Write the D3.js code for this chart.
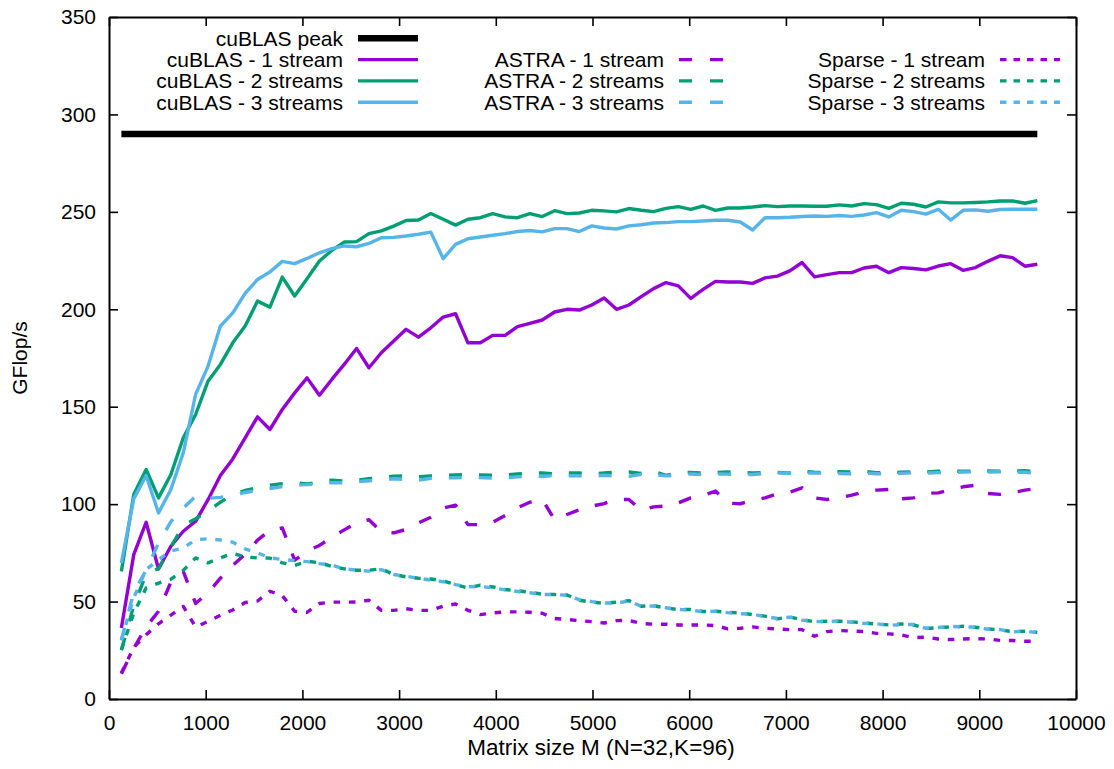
<!DOCTYPE html>
<html>
<head>
<meta charset="utf-8">
<script src="https://cdn.jsdelivr.net/npm/d3@7"></script>
<style>
  html, body { margin: 0; padding: 0; background: #fff; }
  svg { display: block; }
  text { font-family: "Liberation Sans", Arial, Helvetica, sans-serif; fill: #000; }
</style>
</head>
<body>
<svg id="chart" width="1114" height="769"></svg>
<script>
// ---------- data ----------
const matrixSizes = [128,256,384,512,640,768,896,1024,1152,1280,1408,1536,1664,1792,1920,2048,2176,2304,2432,2560,2688,2816,2944,3072,3200,3328,3456,3584,3712,3840,3968,4096,4224,4352,4480,4608,4736,4864,4992,5120,5248,5376,5504,5632,5760,5888,6016,6144,6272,6400,6528,6656,6784,6912,7040,7168,7296,7424,7552,7680,7808,7936,8064,8192,8320,8448,8576,8704,8832,8960,9088,9216,9344,9472,9600];

const cublasPeak = 290;

const cublas1 = [36.4, 74.1, 90.7, 66.7, 78.4, 86.1, 91.2, 102.3, 114.7, 123.2,
 134.0, 144.8, 138.3, 148.6, 157.1, 164.8, 155.9, 164.0, 171.7, 179.9,
 170.0, 177.7, 183.7, 189.7, 185.7, 190.5, 196.0, 197.7, 182.8, 182.8,
 186.6, 186.6, 191.1, 192.8, 194.5, 198.6, 200.0, 199.6, 202.2, 205.8,
 200.0, 202.2, 206.5, 210.6, 213.7, 212.0, 205.6, 210.2, 214.3, 214.0,
 214.0, 213.3, 216.1, 217.0, 219.7, 224.0, 216.6, 217.8, 218.8, 218.8,
 221.2, 222.1, 218.8, 221.4, 220.9, 220.2, 222.2, 223.4, 220.0, 221.4,
 224.6, 227.5, 226.5, 222.1, 223.1];

const cublas2 = [65.5, 104.9, 117.8, 103.2, 115.2, 134.0, 146.0, 163.1, 171.7, 182.8,
 191.4, 204.2, 201.1, 216.5, 206.8, 215.7, 224.8, 230.2, 234.5, 234.7,
 238.8, 240.2, 242.7, 245.6, 245.8, 249.2, 246.2, 243.2, 246.2, 247.0,
 249.1, 247.4, 247.0, 249.1, 247.6, 250.6, 249.1, 249.4, 250.8, 250.5,
 250.0, 251.7, 250.8, 250.1, 251.8, 252.7, 251.3, 253.0, 250.8, 252.0,
 252.0, 252.5, 253.2, 252.7, 253.0, 253.0, 252.9, 252.9, 253.6, 253.0,
 254.2, 253.7, 251.8, 254.4, 253.9, 252.5, 255.1, 254.6, 254.6, 254.8,
 255.1, 255.6, 255.6, 254.4, 255.8];

const cublas3 = [69.8, 102.7, 114.7, 95.5, 107.5, 126.3, 156.3, 170.8, 191.4, 198.2,
 208.2, 215.3, 219.1, 224.6, 223.4, 226.1, 229.0, 231.1, 232.5, 232.1,
 233.8, 236.7, 236.9, 237.6, 238.5, 239.6, 226.0, 233.3, 236.2, 237.1,
 238.0, 238.8, 239.9, 240.4, 239.7, 241.4, 241.4, 239.9, 242.8, 241.7,
 241.2, 242.8, 243.4, 244.3, 244.5, 245.0, 245.0, 245.3, 245.7, 245.7,
 244.8, 240.7, 247.0, 247.0, 247.2, 247.6, 247.9, 247.7, 248.1, 247.7,
 248.4, 249.6, 247.4, 250.8, 250.1, 248.8, 251.3, 245.8, 250.8, 251.0,
 250.3, 251.2, 251.3, 251.3, 251.3];

const astra1 = [13.0, 26.0, 37.0, 45.0, 60.0, 65.5, 49.0, 54.5, 62.0, 68.5,
 74.3, 81.5, 86.6, 87.8, 71.2, 76.0, 78.8, 83.0, 86.8, 90.4,
 92.0, 85.8, 85.3, 87.0, 90.4, 93.3, 98.0, 99.5, 89.5, 89.5,
 90.7, 94.2, 98.1, 101.0, 102.4, 92.1, 94.7, 97.1, 99.0, 100.3,
 102.4, 102.4, 96.9, 98.6, 99.0, 100.7, 103.2, 104.4, 106.7, 100.5,
 100.2, 102.0, 103.2, 105.3, 106.2, 108.4, 103.2, 102.4, 103.2, 104.6,
 106.3, 107.2, 107.5, 102.7, 103.2, 105.5, 105.8, 107.5, 108.9, 109.7,
 105.5, 105.0, 105.8, 107.2, 108.0];

const astra2 = [25.0, 48.0, 64.0, 67.0, 78.0, 89.0, 92.5, 96.5, 101.0, 105.0,
 107.0, 108.4, 109.7, 110.5, 110.9, 110.4, 111.3, 112.3, 111.8, 112.3,
 113.0, 113.5, 114.4, 114.5, 114.0, 114.5, 114.8, 115.0, 115.2, 115.0,
 114.8, 115.0, 115.5, 116.0, 116.0, 115.5, 116.0, 116.0, 115.5, 116.0,
 116.5, 116.5, 115.8, 116.8, 114.8, 116.0, 116.3, 116.0, 116.2, 116.5,
 116.2, 116.0, 116.2, 116.3, 116.0, 116.9, 116.4, 116.2, 116.6, 116.5,
 116.9, 116.2, 116.1, 116.4, 116.6, 116.5, 116.9, 116.8, 116.9, 116.9,
 117.0, 116.9, 116.9, 117.2, 116.6];

const astra3 = [30.0, 55.0, 66.0, 80.0, 91.0, 98.0, 104.0, 103.0, 103.5, 104.5,
 106.0, 107.0, 108.0, 109.0, 109.8, 110.0, 110.5, 111.0, 111.0, 111.5,
 112.0, 112.5, 113.0, 112.7, 112.3, 113.3, 113.5, 113.5, 113.8, 113.6,
 113.4, 113.5, 114.0, 114.4, 114.2, 114.8, 114.6, 114.5, 114.5, 114.8,
 114.4, 114.3, 115.3, 115.2, 114.5, 114.9, 115.5, 115.2, 115.5, 115.4,
 115.2, 115.2, 115.8, 116.0, 116.0, 116.0, 116.0, 115.8, 115.7, 115.6,
 116.0, 115.6, 115.6, 115.8, 116.1, 115.9, 116.2, 116.1, 116.5, 116.6,
 116.5, 116.6, 116.4, 116.4, 115.8];

const sparse1 = [13.3, 26.5, 33.0, 38.6, 43.0, 47.5, 37.0, 39.8, 43.0, 45.7,
 49.5, 50.3, 55.3, 53.1, 45.0, 44.5, 49.0, 49.7, 49.7, 49.8,
 50.7, 45.5, 45.5, 46.3, 45.5, 45.5, 47.6, 48.8, 45.5, 43.3,
 44.2, 44.7, 44.7, 44.5, 44.0, 41.3, 40.8, 40.2, 39.7, 39.0,
 40.2, 40.4, 38.7, 38.4, 38.4, 38.0, 38.0, 38.0, 37.7, 36.0,
 36.3, 37.0, 36.3, 36.0, 35.6, 35.6, 32.2, 34.6, 35.1, 34.9,
 34.6, 33.7, 33.4, 32.9, 31.5, 31.7, 30.8, 30.5, 30.8, 31.0,
 30.8, 30.1, 30.0, 29.6, 29.6];

const sparse2 = [25.3, 44.0, 57.0, 59.5, 61.5, 66.0, 72.4, 69.9, 72.4, 74.8,
 72.9, 72.4, 72.3, 69.9, 68.5, 70.7, 69.9, 68.1, 66.8, 66.1,
 66.1, 66.8, 63.9, 62.7, 62.0, 61.6, 60.6, 58.7, 57.0, 58.4,
 57.5, 56.2, 55.5, 54.8, 53.8, 53.6, 53.4, 50.7, 49.7, 49.1,
 49.7, 50.5, 47.6, 47.9, 46.7, 45.9, 45.9, 44.9, 45.0, 44.5,
 44.2, 43.3, 42.5, 41.1, 42.1, 40.7, 39.6, 39.9, 39.9, 39.6,
 39.0, 38.5, 38.0, 38.5, 38.0, 36.1, 36.6, 37.0, 37.3, 36.8,
 36.0, 35.4, 34.6, 34.8, 34.2];

const sparse3 = [30.4, 52.0, 66.4, 71.5, 76.0, 77.5, 81.8, 82.2, 81.6, 80.5,
 77.0, 75.0, 72.4, 71.6, 71.0, 70.5, 69.5, 68.7, 66.8, 66.1,
 65.6, 66.4, 63.9, 63.0, 62.0, 61.0, 60.2, 58.7, 57.6, 57.8,
 57.0, 56.0, 55.2, 54.5, 53.6, 53.6, 53.2, 51.0, 50.0, 49.3,
 49.2, 50.3, 47.6, 47.7, 46.8, 46.0, 45.6, 44.8, 45.1, 44.3,
 43.8, 43.5, 42.3, 41.3, 42.0, 40.5, 39.8, 39.7, 40.1, 39.4,
 38.8, 38.6, 37.8, 38.2, 38.3, 36.3, 36.7, 37.3, 37.0, 36.9,
 35.8, 35.6, 34.4, 34.9, 34.0];

const seriesNames = ["cuBLAS - 1 stream", "cuBLAS - 2 streams", "cuBLAS - 3 streams",
                     "ASTRA - 1 stream", "ASTRA - 2 streams", "ASTRA - 3 streams",
                     "Sparse - 1 stream", "Sparse - 2 streams", "Sparse - 3 streams"];
const peakName = "cuBLAS peak";
const xTicks = [0,1000,2000,3000,4000,5000,6000,7000,8000,9000,10000];
const yTicks = [0,50,100,150,200,250,300,350];
const xLabel = "Matrix size M (N=32,K=96)";
const yLabel = "GFlop/s";

// ---------- styles ----------
const PURPLE = "#9400d3", GREEN = "#009e73", BLUE = "#56b4e9";
const seriesValues = [cublas1, cublas2, cublas3, astra1, astra2, astra3, sparse1, sparse2, sparse3];
const seriesColors = [PURPLE, GREEN, BLUE, PURPLE, GREEN, BLUE, PURPLE, GREEN, BLUE];
const dashPlot = ["", "", "", "13,17", "13,17", "13,17", "6.5,8.8", "6.5,8.8", "6.5,8.8"];
const dashKey  = ["", "", "", "13,18", "13,18", "13,18", "6.5,7", "6.5,7", "6.5,7"];

const FS = 21;
const svg = d3.select("#chart");
const L = 109, R = 1076, T = 17, B = 699;
const x = d3.scaleLinear().domain([0, 10000]).range([L, R]);
const y = d3.scaleLinear().domain([0, 350]).range([B, T]);

function styleAxis(g) {
  g.attr("font-family", null).attr("font-size", null);
  g.select(".domain").attr("stroke", "#000").attr("stroke-width", 2);
  g.selectAll(".tick line").attr("stroke", "#000").attr("stroke-width", 1.6);
  g.selectAll(".tick text").style("font-size", FS + "px").attr("fill", "#000");
}

svg.append("g").attr("transform", `translate(0,${B})`)
  .call(d3.axisBottom(x).tickValues(xTicks).tickFormat(d3.format("d")).tickSize(-9).tickSizeOuter(0).tickPadding(16))
  .call(styleAxis);
svg.append("g").attr("transform", `translate(0,${T})`)
  .call(d3.axisTop(x).tickValues(xTicks).tickFormat("").tickSize(-9).tickSizeOuter(0))
  .call(styleAxis);
svg.append("g").attr("transform", `translate(${L},0)`)
  .call(d3.axisLeft(y).tickValues(yTicks).tickFormat(d3.format("d")).tickSize(-9).tickSizeOuter(0).tickPadding(13))
  .call(styleAxis);
svg.append("g").attr("transform", `translate(${R},0)`)
  .call(d3.axisRight(y).tickValues(yTicks).tickFormat("").tickSize(-9).tickSizeOuter(0))
  .call(styleAxis);

// axis labels
svg.append("text").attr("x", 601).attr("y", 755).attr("text-anchor", "middle")
  .style("font-size", "22.5px").text(xLabel);
svg.append("text").attr("transform", `translate(27,358) rotate(-90)`).attr("text-anchor", "middle")
  .style("font-size", FS + "px").text(yLabel);

// lines
const plot = svg.append("g");
const line = d3.line().x((d, i) => x(matrixSizes[i])).y(d => y(d));

plot.append("path")
  .datum([matrixSizes[0], matrixSizes[matrixSizes.length - 1]])
  .attr("d", d3.line().x(d => x(d)).y(() => y(cublasPeak)))
  .attr("fill", "none").attr("stroke", "#000").attr("stroke-width", 6.5);

seriesValues.forEach((vals, s) => {
  plot.append("path").datum(vals).attr("d", line)
    .attr("fill", "none").attr("stroke", seriesColors[s]).attr("stroke-width", 3.4)
    .attr("stroke-linejoin", "round").attr("stroke-linecap", "butt")
    .attr("stroke-dasharray", dashPlot[s] || null);
});

// legend
const key = svg.append("g");
const rowY = [38.3, 59.6, 80.9, 102.2];
const colTextX = [343, 664, 985];
const sampleLen = 60, sampleGap = 15;
function keyEntry(label, col, row, color, width, dash) {
  key.append("text").attr("x", colTextX[col]).attr("y", rowY[row]).attr("dy", "0.35em")
    .attr("text-anchor", "end").style("font-size", FS + "px").text(label);
  key.append("line")
    .attr("x1", colTextX[col] + sampleGap).attr("x2", colTextX[col] + sampleGap + sampleLen)
    .attr("y1", rowY[row]).attr("y2", rowY[row])
    .attr("stroke", color).attr("stroke-width", width)
    .attr("stroke-dasharray", dash || null);
}
keyEntry(peakName, 0, 0, "#000", 6.5, "");
seriesNames.forEach((name, s) => {
  const col = Math.floor(s / 3), row = (s % 3) + 1;
  keyEntry(name, col, row, seriesColors[s], 3.4, dashKey[s]);
});
</script>
</body>
</html>
